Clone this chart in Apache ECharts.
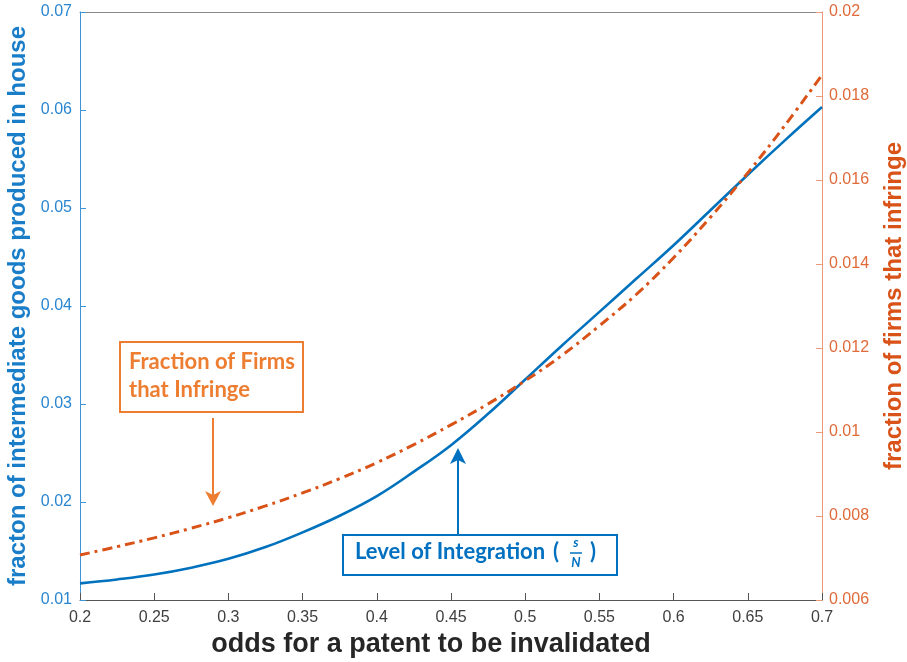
<!DOCTYPE html>
<html><head><meta charset="utf-8">
<script src="https://cdn.jsdelivr.net/npm/echarts@6/dist/echarts.min.js"></script>
<style>html,body{margin:0;padding:0;background:#fff}#c{width:907px;height:662px}</style>
</head><body><div id="c"></div>
<script>
// odds for a patent to be invalidated
const odds = [0.2,0.225,0.25,0.275,0.3,0.325,0.35,0.375,0.4,0.425,0.45,0.475,0.5,0.525,0.55,0.575,0.6,0.625,0.65,0.675,0.7];
// fraction of intermediate goods produced in house (left axis)
const integration = [0.0117,0.0121,0.0126,0.0133,0.0142,0.0154,0.0169,0.0186,0.0206,0.0231,0.0258,0.0290,0.0325,0.0360,0.0394,0.0428,0.0462,0.0498,0.0534,0.0569,0.0603];
// fraction of firms that infringe (right axis)
const infringe = [0.00707,0.00727,0.00748,0.00771,0.00796,0.00824,0.00855,0.00889,0.00927,0.00970,0.01017,0.01067,0.01122,0.01183,0.01253,0.01328,0.01415,0.01512,0.01617,0.01730,0.01850];
// tick settings [min, max, interval]
const xTickRange = [0.2, 0.7, 0.05];
const leftTickRange = [0.01, 0.07, 0.01];
const rightTickRange = [0.006, 0.02, 0.002];

const BLUE = '#0072BD', ORANGE = '#D95319';
const fmt = v => String(+(+v).toFixed(3));
const chart = echarts.init(document.getElementById('c'), null, {renderer:'canvas'});
const axisFont = 'Liberation Sans, Arial, sans-serif';
const annFont = 'Lato, "Open Sans", sans-serif';

const option = {
  backgroundColor: '#fff',
  animation: false,
  grid: {left: 80, right: 85, top: 12, bottom: 62, show: false, containLabel: false, outerBoundsMode: 'none'},
  xAxis: [{
    type: 'value', min: xTickRange[0], max: xTickRange[1], interval: xTickRange[2],
    position: 'bottom',
    name: 'odds for a patent to be invalidated', nameLocation: 'middle', nameGap: 29,
    nameTextStyle: {fontFamily: axisFont, fontWeight: 'bold', fontSize: 27, color: '#262626', padding: [0, 40, 0, 0]},
    axisLine: {show: true, lineStyle: {color: '#555', width: 1}},
    axisTick: {show: true, inside: true, length: 7, lineStyle: {color: '#555'}},
    axisLabel: {formatter: fmt, fontFamily: axisFont, fontSize: 16, color: '#404040', margin: 10},
    splitLine: {show: false}
  }, {
    type: 'value', min: xTickRange[0], max: xTickRange[1], interval: xTickRange[2],
    position: 'top',
    axisLine: {show: true, lineStyle: {color: '#888', width: 1}},
    axisTick: {show: false}, axisLabel: {show: false}, splitLine: {show: false}
  }],
  yAxis: [{
    type: 'value', min: leftTickRange[0], max: leftTickRange[1], interval: leftTickRange[2],
    position: 'left',
    name: 'fracton of intermediate goods produced in house', nameLocation: 'middle', nameGap: 49,
    nameTextStyle: {fontFamily: axisFont, fontWeight: 'bold', fontSize: 24, color: '#1a7dc8'},
    axisLine: {show: true, lineStyle: {color: '#3d95d8', width: 1}},
    axisTick: {show: true, inside: true, length: 6, lineStyle: {color: '#3d95d8'}},
    axisLabel: {formatter: fmt, fontFamily: axisFont, fontSize: 16, color: '#2a86d0', margin: 8},
    splitLine: {show: false}
  }, {
    type: 'value', min: rightTickRange[0], max: rightTickRange[1], interval: rightTickRange[2],
    position: 'right',
    name: 'fraction of firms that infringe', nameLocation: 'middle', nameGap: 60,
    nameTextStyle: {fontFamily: axisFont, fontWeight: 'bold', fontSize: 24, color: '#D95319'},
    axisLine: {show: true, lineStyle: {color: '#ec9a78', width: 1}},
    axisTick: {show: true, inside: true, length: 6, lineStyle: {color: '#ec9a78'}},
    axisLabel: {formatter: fmt, fontFamily: axisFont, fontSize: 16, color: '#e06a3a', margin: 7},
    splitLine: {show: false}
  }],
  series: [{
    type: 'line', xAxisIndex: 0, yAxisIndex: 0, smooth: 0.4, showSymbol: false,
    data: odds.map((x, i) => [x, integration[i]]),
    lineStyle: {color: BLUE, width: 2.6}, itemStyle: {color: BLUE}, z: 2
  }, {
    type: 'line', xAxisIndex: 0, yAxisIndex: 1, smooth: 0.4, showSymbol: false,
    data: odds.map((x, i) => [x, infringe[i]]),
    lineStyle: {color: ORANGE, width: 3, type: [10, 5, 3, 5]}, itemStyle: {color: ORANGE}, z: 3
  }]
};
chart.setOption(option);

// annotations
const AO = '#ED7D31', AB = '#0070C0';
chart.setOption({graphic: [
  {type: 'rect', shape: {x: 120, y: 342, width: 183, height: 70}, style: {fill: '#fff', stroke: AO, lineWidth: 2}, z: 10},
  {type: 'text', x: 129, y: 351, style: {text: 'Fraction of Firms', fill: AO, font: 'bold 22px ' + annFont}, z: 11},
  {type: 'text', x: 129, y: 379, style: {text: 'that Infringe', fill: AO, font: 'bold 22px ' + annFont}, z: 11},
  {type: 'line', shape: {x1: 213, y1: 418, x2: 213, y2: 496}, style: {stroke: AO, lineWidth: 2}, z: 10},
  {type: 'polygon', shape: {points: [[205, 491], [213, 506], [221, 491], [213, 495]]}, style: {fill: AO}, z: 10},

  {type: 'rect', shape: {x: 343, y: 535, width: 274, height: 40}, style: {fill: '#fff', stroke: AB, lineWidth: 2}, z: 10},
  {type: 'text', x: 355, y: 541, style: {text: 'Level of Integration', fill: AB, font: 'bold 22px ' + annFont}, z: 11},
  {type: 'text', x: 553, y: 541, style: {text: '(', fill: AB, font: 'bold 22px ' + annFont}, z: 11},
  {type: 'text', x: 576, y: 536, style: {text: 's', fill: AB, font: 'italic bold 13px ' + annFont, align: 'center'}, z: 11},
  {type: 'line', shape: {x1: 570, y1: 553, x2: 582, y2: 553}, style: {stroke: AB, lineWidth: 1.5}, z: 11},
  {type: 'text', x: 576, y: 556, style: {text: 'N', fill: AB, font: 'italic bold 13px ' + annFont, align: 'center'}, z: 11},
  {type: 'text', x: 590, y: 541, style: {text: ')', fill: AB, font: 'bold 22px ' + annFont}, z: 11},
  {type: 'line', shape: {x1: 458, y1: 534, x2: 458, y2: 458}, style: {stroke: AB, lineWidth: 2}, z: 10},
  {type: 'polygon', shape: {points: [[450, 464], [458, 448], [466, 464], [458, 460]]}, style: {fill: AB}, z: 10}
]});
</script></body></html>
